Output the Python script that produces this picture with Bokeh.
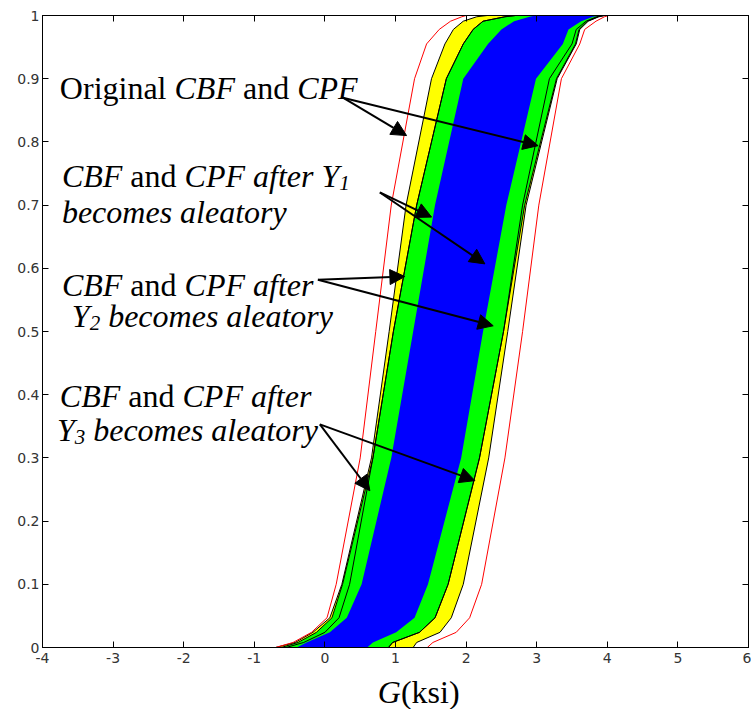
from bokeh.plotting import figure
from bokeh.layouts import column
from bokeh.models import Range1d, LinearAxis, FixedTicker, Label, Arrow, NormalHead
from bokeh.embed import file_html
from bokeh.resources import INLINE

# ---------------- data ----------------
p_levels = [0.0, 0.008, 0.024, 0.047, 0.1, 0.3, 0.5, 0.7, 0.9, 0.955, 0.978, 0.991, 0.998, 1.0]

# original CBF / CPF (red)
red_left_p = [0.0, 0.0, 0.008, 0.024, 0.047, 0.1, 0.3, 0.5, 0.7, 0.9, 0.955, 0.978, 0.991, 0.998, 1.0]
red_left = [-4.0, -0.70, -0.45, -0.19, 0.03, 0.16, 0.50, 0.72, 0.94, 1.27, 1.44, 1.62, 1.78, 1.94, 2.00]
red_right = [1.45, 1.53, 1.86, 2.05, 2.22, 2.55, 2.80, 3.03, 3.35, 3.61, 3.68, 3.84, 3.96, 4.02]

# yellow band bounds
yellow_left = [-0.70, -0.42, -0.17, 0.07, 0.24, 0.66, 0.91, 1.15, 1.51, 1.70, 1.82, 1.96, 2.15, 2.30]
yellow_right = [1.25, 1.30, 1.63, 1.79, 1.96, 2.32, 2.59, 2.85, 3.29, 3.56, 3.61, 3.73, 3.88, 3.97]

# green band bounds
green_left = [-0.62, -0.38, -0.12, 0.10, 0.25, 0.68, 0.97, 1.30, 1.72, 1.96, 2.10, 2.24, 2.55, 2.70]
green_right = [0.90, 0.96, 1.34, 1.56, 1.745, 2.19, 2.53, 2.83, 3.28, 3.55, 3.60, 3.72, 3.87, 3.95]

# inner black curves inside the green band
inner_left = [-0.55, -0.30, 0.00, 0.20, 0.35, 0.68, 0.97, 1.30, 1.72, 1.96, 2.10, 2.24, 2.55, 2.70]
inner_right = [0.90, 0.96, 1.34, 1.56, 1.745, 2.19, 2.53, 2.80, 3.18, 3.50, 3.56, 3.70, 3.85, 3.93]

# blue band bounds
blue_left = [-0.40, -0.26, 0.07, 0.31, 0.52, 0.94, 1.25, 1.56, 1.96, 2.31, 2.50, 2.68, 2.90, 2.98]
blue_right = [0.60, 0.68, 1.01, 1.27, 1.46, 1.93, 2.24, 2.57, 2.99, 3.37, 3.45, 3.63, 3.80, 3.90]

x_ticks = [-4, -3, -2, -1, 0, 1, 2, 3, 4, 5, 6]
x_tick_labels = ["-4", "-3", "-2", "-1", "0", "1", "2", "3", "4", "5", "6"]
y_ticks = [0, 0.1, 0.2, 0.3, 0.4, 0.5, 0.6, 0.7, 0.8, 0.9, 1]
y_tick_labels = ["0", "0.1", "0.2", "0.3", "0.4", "0.5", "0.6", "0.7", "0.8", "0.9", "1"]

# annotation arrows: (start G, start p, end G, end p)
arrows = [
    (0.255, 0.870, 1.157, 0.810), (0.255, 0.870, 3.020, 0.794),
    (0.779, 0.720, 1.511, 0.681), (0.779, 0.720, 2.266, 0.607),
    (-0.099, 0.582, 1.133, 0.587), (-0.099, 0.582, 2.384, 0.509),
    (-0.071, 0.353, 0.637, 0.248), (-0.071, 0.353, 2.125, 0.264),
]

# ---------------- main figure ----------------
p = figure(width=751, height=672, output_backend="svg", toolbar_location=None,
           x_range=Range1d(-4, 6), y_range=Range1d(0, 1),
           x_axis_type=None, y_axis_type=None,
           min_border_left=42, min_border_right=3, min_border_top=15, min_border_bottom=25)
p.grid.visible = False
p.outline_line_color = "black"
p.outline_line_width = 1
p.background_fill_color = "white"
p.border_fill_color = "white"

TICK_FONT = "DejaVu Sans"

def make_axis(ticks, labels, show_labels):
    ax = LinearAxis(ticker=FixedTicker(ticks=ticks))
    ax.major_tick_in = 6
    ax.major_tick_out = 0
    ax.minor_tick_line_color = None
    ax.axis_line_color = "black"
    ax.major_tick_line_color = "black"
    ax.major_label_text_font = TICK_FONT
    if show_labels:
        ax.major_label_overrides = {t: s for t, s in zip(ticks, labels)}
        ax.major_label_text_color = "#333333"
        ax.major_label_text_font_size = "14px"
    else:
        ax.major_label_text_color = None
        ax.major_label_text_font_size = "0px"
        ax.major_label_standoff = 0
    return ax

bx = make_axis(x_ticks, x_tick_labels, True)
bx.major_label_standoff = 5
p.add_layout(bx, "below")
ly = make_axis(y_ticks, y_tick_labels, True)
ly.major_label_standoff = 3
p.add_layout(ly, "left")
p.add_layout(make_axis(x_ticks, x_tick_labels, False), "above")
p.add_layout(make_axis(y_ticks, y_tick_labels, False), "right")

# bands
p.harea(y=p_levels, x1=yellow_left, x2=yellow_right, fill_color="#FFFF00")
p.harea(y=p_levels, x1=green_left, x2=green_right, fill_color="#00FF00")
p.harea(y=p_levels, x1=blue_left, x2=blue_right, fill_color="#0000FF")

for xs in (yellow_left, yellow_right, green_left, green_right, inner_left, inner_right):
    p.line(x=xs, y=p_levels, line_color="black", line_width=1)

p.line(x=red_left, y=red_left_p, line_color="#FF0000", line_width=1)
p.line(x=red_right, y=p_levels, line_color="#FF0000", line_width=1)

for xs0, ys0, xs1, ys1 in arrows:
    p.add_layout(Arrow(end=NormalHead(size=15, fill_color="black", line_color="black"),
                       x_start=xs0, y_start=ys0, x_end=xs1, y_end=ys1,
                       line_color="black", line_width=2))

# ---------------- rich text helpers ----------------
REG = {' ': 250, 'O': 722, 'r': 333, 'i': 278, 'g': 500, 'n': 500, 'a': 444, 'l': 278,
       'd': 500, '(': 333, ')': 333, 'k': 500, 's': 389}
ITA = {' ': 250, 'C': 667, 'B': 611, 'F': 611, 'P': 611, 'G': 722, 'a': 500, 'f': 278,
       't': 278, 'e': 444, 'r': 389, 'Y': 556, 'b': 500, 'c': 444, 'o': 500, 'm': 722,
       's': 389, 'l': 278, 'y': 444, 'n': 500, 'd': 500, '1': 500, '2': 500, '3': 500}
SERIF = "Liberation Serif"
FS = 32
SUB = 21
LIFT = 10  # screen-pixel correction of the text baseline

def width(txt, style, fs):
    tab = ITA if style == "italic" else REG
    return sum(tab.get(c, 500) for c in txt) * fs / 1000.0

def rich(fig, x, y, segs):
    off = 0.0
    for txt, style, fs, dy in segs:
        lead = len(txt) - len(txt.lstrip(' '))
        off += lead * 250 * fs / 1000.0
        core = txt.strip(' ')
        if core:
            fig.add_layout(Label(x=x, y=y, x_offset=off, y_offset=dy + LIFT, text=core,
                                 text_font=SERIF, text_font_style=style,
                                 text_font_size=f"{fs}px", text_color="black",
                                 text_align="left", text_baseline="alphabetic"))
            off += width(core, style, fs)
        trail = len(txt) - len(txt.rstrip(' '))
        off += trail * 250 * fs / 1000.0

I, N = "italic", "normal"
rich(p, -3.754, 0.870, [("Original ", N, FS, 0), ("CBF", I, FS, 0), (" and ", N, FS, 0), ("CPF", I, FS, 0)])
rich(p, -3.725, 0.730, [("CBF", I, FS, 0), (" and ", N, FS, 0), ("CPF after Y", I, FS, 0), ("1", I, SUB, -7)])
rich(p, -3.725, 0.674, [("becomes aleatory", I, FS, 0)])
rich(p, -3.725, 0.558, [("CBF", I, FS, 0), (" and ", N, FS, 0), ("CPF after", I, FS, 0)])
rich(p, -3.584, 0.508, [("Y", I, FS, 0), ("2", I, SUB, -7), (" becomes aleatory", I, FS, 0)])
rich(p, -3.754, 0.382, [("CBF", I, FS, 0), (" and ", N, FS, 0), ("CPF after", I, FS, 0)])
rich(p, -3.796, 0.329, [("Y", I, FS, 0), ("3", I, SUB, -7), (" becomes aleatory", I, FS, 0)])

# ---------------- strip below for the x-axis title "G (ksi)" ----------------
p2 = figure(width=751, height=37, output_backend="svg", toolbar_location=None,
            x_range=p.x_range, y_range=Range1d(0, 1),
            x_axis_type=None, y_axis_type=None,
            min_border_left=42, min_border_right=3, min_border_top=0, min_border_bottom=0)
p2.grid.visible = False
p2.outline_line_color = None
p2.background_fill_color = "white"
p2.border_fill_color = "white"
rich(p2, 0.75, 0.216, [("G", I, FS, 0), ("(ksi)", N, FS, 0)])

layout = column(p, p2, spacing=0)
open("out.html", "w").write(file_html(layout, INLINE))
